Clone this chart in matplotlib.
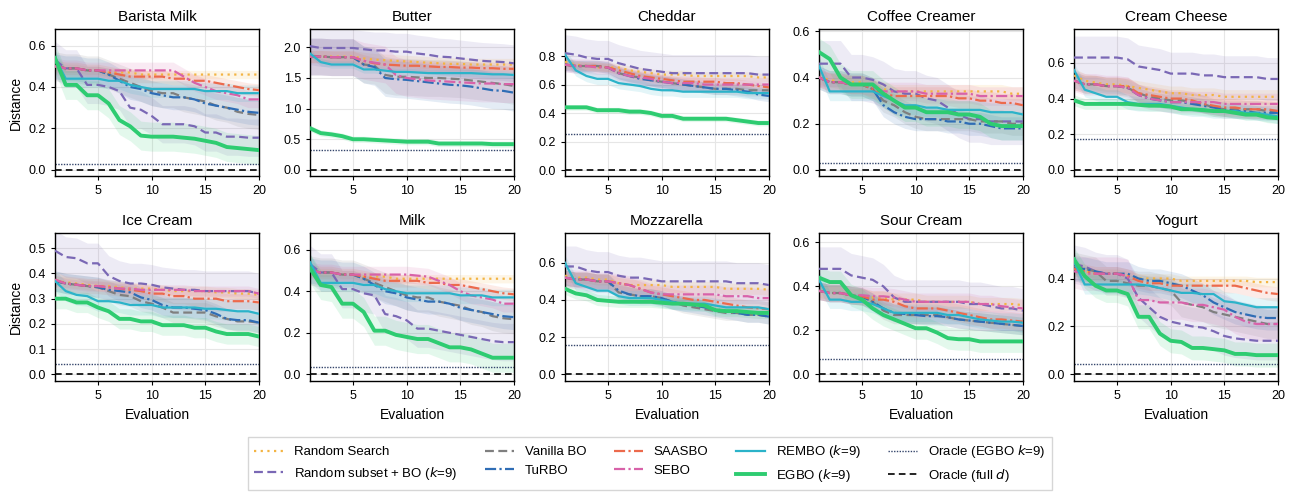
import numpy as np
import matplotlib
matplotlib.use("Agg")
import matplotlib.pyplot as plt
from matplotlib.ticker import MultipleLocator

plt.rcParams['font.family'] = ['Liberation Sans', 'DejaVu Sans']

panels = ["Barista Milk", "Butter", "Cheddar", "Coffee Creamer", "Cream Cheese",
          "Ice Cream", "Milk", "Mozzarella", "Sour Cream", "Yogurt"]
evals = list(range(1, 21))
ylims = [(-0.03, 0.68), (-0.10, 2.30), (-0.042, 0.99), (-0.026, 0.61), (-0.034, 0.79),
         (-0.026, 0.56), (-0.032, 0.68), (-0.036, 0.76), (-0.03, 0.643), (-0.028, 0.59)]
ytick_steps = [0.2, 0.5, 0.2, 0.2, 0.2, 0.1, 0.2, 0.2, 0.2, 0.2]

random_search = [
    [0.50, 0.49, 0.49, 0.48, 0.48, 0.47, 0.47, 0.47, 0.46, 0.46, 0.46, 0.46, 0.46, 0.46, 0.46, 0.46, 0.46, 0.46, 0.46, 0.46],
    [1.85, 1.85, 1.85, 1.85, 1.85, 1.82, 1.80, 1.79, 1.78, 1.77, 1.76, 1.75, 1.74, 1.73, 1.73, 1.72, 1.72, 1.72, 1.72, 1.72],
    [0.76, 0.74, 0.73, 0.72, 0.72, 0.72, 0.70, 0.69, 0.68, 0.67, 0.67, 0.67, 0.66, 0.66, 0.66, 0.66, 0.66, 0.66, 0.65, 0.65],
    [0.40, 0.39, 0.38, 0.38, 0.38, 0.36, 0.35, 0.34, 0.34, 0.34, 0.34, 0.34, 0.34, 0.34, 0.34, 0.34, 0.34, 0.34, 0.33, 0.33],
    [0.53, 0.50, 0.49, 0.48, 0.48, 0.47, 0.46, 0.45, 0.44, 0.43, 0.43, 0.42, 0.42, 0.42, 0.41, 0.41, 0.41, 0.41, 0.41, 0.41],
    [0.37, 0.365, 0.36, 0.355, 0.35, 0.35, 0.345, 0.34, 0.34, 0.34, 0.335, 0.33, 0.33, 0.33, 0.33, 0.325, 0.325, 0.32, 0.32, 0.315],
    [0.50, 0.49, 0.49, 0.48, 0.48, 0.47, 0.47, 0.47, 0.46, 0.46, 0.46, 0.46, 0.46, 0.46, 0.46, 0.46, 0.46, 0.46, 0.46, 0.46],
    [0.53, 0.52, 0.52, 0.51, 0.51, 0.49, 0.48, 0.48, 0.48, 0.48, 0.47, 0.47, 0.47, 0.47, 0.47, 0.46, 0.46, 0.46, 0.46, 0.455],
    [0.38, 0.37, 0.37, 0.36, 0.36, 0.35, 0.35, 0.34, 0.34, 0.34, 0.33, 0.33, 0.33, 0.33, 0.33, 0.32, 0.32, 0.32, 0.32, 0.315],
    [0.44, 0.43, 0.42, 0.42, 0.42, 0.41, 0.40, 0.40, 0.40, 0.40, 0.39, 0.39, 0.39, 0.39, 0.39, 0.39, 0.39, 0.385, 0.385, 0.385],
]
random_subset = [
    [0.53, 0.49, 0.49, 0.41, 0.41, 0.40, 0.38, 0.30, 0.29, 0.26, 0.22, 0.22, 0.22, 0.21, 0.18, 0.18, 0.16, 0.16, 0.155, 0.155],
    [2.02, 1.99, 1.99, 1.99, 1.99, 1.97, 1.95, 1.95, 1.93, 1.93, 1.90, 1.88, 1.85, 1.84, 1.82, 1.80, 1.78, 1.77, 1.76, 1.74],
    [0.82, 0.81, 0.79, 0.78, 0.78, 0.75, 0.73, 0.71, 0.70, 0.69, 0.68, 0.68, 0.68, 0.68, 0.68, 0.68, 0.68, 0.68, 0.67, 0.67],
    [0.46, 0.46, 0.46, 0.40, 0.40, 0.39, 0.37, 0.34, 0.33, 0.33, 0.31, 0.30, 0.27, 0.24, 0.22, 0.22, 0.21, 0.21, 0.21, 0.21],
    [0.63, 0.63, 0.63, 0.63, 0.63, 0.62, 0.58, 0.57, 0.56, 0.54, 0.54, 0.54, 0.53, 0.53, 0.52, 0.52, 0.52, 0.52, 0.51, 0.51],
    [0.49, 0.465, 0.46, 0.44, 0.44, 0.39, 0.37, 0.36, 0.36, 0.355, 0.345, 0.34, 0.335, 0.335, 0.33, 0.33, 0.33, 0.33, 0.33, 0.32],
    [0.53, 0.49, 0.49, 0.41, 0.41, 0.39, 0.38, 0.29, 0.28, 0.26, 0.22, 0.22, 0.21, 0.20, 0.19, 0.18, 0.17, 0.16, 0.155, 0.155],
    [0.58, 0.58, 0.56, 0.55, 0.55, 0.53, 0.52, 0.52, 0.51, 0.50, 0.50, 0.50, 0.50, 0.50, 0.50, 0.50, 0.49, 0.49, 0.49, 0.48],
    [0.48, 0.48, 0.48, 0.45, 0.44, 0.43, 0.40, 0.35, 0.33, 0.33, 0.33, 0.33, 0.33, 0.33, 0.32, 0.32, 0.31, 0.30, 0.30, 0.29],
    [0.46, 0.45, 0.43, 0.42, 0.42, 0.40, 0.32, 0.28, 0.24, 0.22, 0.21, 0.20, 0.195, 0.18, 0.16, 0.15, 0.145, 0.14, 0.14, 0.14],
]
vanilla_bo = [
    [0.50, 0.49, 0.49, 0.48, 0.48, 0.46, 0.44, 0.42, 0.40, 0.38, 0.37, 0.37, 0.35, 0.34, 0.33, 0.31, 0.30, 0.28, 0.27, 0.265],
    [1.85, 1.85, 1.84, 1.84, 1.84, 1.72, 1.70, 1.55, 1.52, 1.52, 1.51, 1.50, 1.50, 1.49, 1.48, 1.46, 1.44, 1.42, 1.40, 1.37],
    [0.74, 0.73, 0.73, 0.73, 0.72, 0.68, 0.66, 0.65, 0.63, 0.62, 0.61, 0.60, 0.59, 0.58, 0.57, 0.57, 0.57, 0.56, 0.56, 0.56],
    [0.40, 0.38, 0.38, 0.37, 0.37, 0.35, 0.30, 0.28, 0.25, 0.23, 0.22, 0.22, 0.22, 0.22, 0.22, 0.21, 0.21, 0.21, 0.20, 0.20],
    [0.50, 0.48, 0.48, 0.47, 0.47, 0.46, 0.43, 0.41, 0.40, 0.39, 0.39, 0.38, 0.37, 0.35, 0.34, 0.34, 0.34, 0.34, 0.33, 0.33],
    [0.37, 0.36, 0.355, 0.35, 0.345, 0.33, 0.315, 0.31, 0.29, 0.28, 0.265, 0.245, 0.245, 0.245, 0.245, 0.23, 0.22, 0.21, 0.21, 0.205],
    [0.50, 0.49, 0.49, 0.48, 0.48, 0.46, 0.44, 0.42, 0.40, 0.38, 0.37, 0.37, 0.35, 0.34, 0.33, 0.31, 0.30, 0.28, 0.27, 0.265],
    [0.52, 0.51, 0.51, 0.50, 0.50, 0.44, 0.43, 0.42, 0.42, 0.41, 0.39, 0.37, 0.36, 0.35, 0.34, 0.33, 0.33, 0.32, 0.32, 0.31],
    [0.38, 0.37, 0.37, 0.36, 0.355, 0.33, 0.29, 0.27, 0.27, 0.27, 0.27, 0.27, 0.26, 0.25, 0.245, 0.24, 0.235, 0.23, 0.225, 0.22],
    [0.45, 0.44, 0.43, 0.39, 0.39, 0.38, 0.37, 0.37, 0.36, 0.35, 0.30, 0.29, 0.28, 0.26, 0.25, 0.24, 0.23, 0.22, 0.21, 0.21],
]
turbo = [
    [0.50, 0.49, 0.49, 0.48, 0.48, 0.46, 0.43, 0.40, 0.39, 0.37, 0.36, 0.35, 0.35, 0.34, 0.32, 0.31, 0.30, 0.29, 0.28, 0.275],
    [1.85, 1.85, 1.84, 1.84, 1.84, 1.72, 1.68, 1.50, 1.48, 1.47, 1.45, 1.43, 1.41, 1.39, 1.38, 1.36, 1.33, 1.30, 1.29, 1.26],
    [0.74, 0.73, 0.73, 0.73, 0.72, 0.68, 0.66, 0.64, 0.63, 0.62, 0.61, 0.60, 0.59, 0.58, 0.57, 0.57, 0.56, 0.55, 0.53, 0.52],
    [0.40, 0.38, 0.38, 0.37, 0.37, 0.35, 0.28, 0.25, 0.23, 0.22, 0.22, 0.22, 0.21, 0.21, 0.20, 0.20, 0.19, 0.18, 0.18, 0.18],
    [0.50, 0.48, 0.48, 0.47, 0.47, 0.46, 0.42, 0.40, 0.39, 0.38, 0.38, 0.37, 0.36, 0.35, 0.34, 0.33, 0.33, 0.32, 0.32, 0.32],
    [0.37, 0.36, 0.355, 0.35, 0.345, 0.335, 0.33, 0.325, 0.305, 0.295, 0.275, 0.265, 0.265, 0.26, 0.255, 0.24, 0.22, 0.215, 0.215, 0.205],
    [0.50, 0.49, 0.49, 0.48, 0.48, 0.46, 0.43, 0.40, 0.39, 0.37, 0.36, 0.35, 0.35, 0.34, 0.32, 0.31, 0.30, 0.29, 0.28, 0.275],
    [0.52, 0.51, 0.51, 0.50, 0.50, 0.45, 0.43, 0.42, 0.42, 0.41, 0.39, 0.38, 0.37, 0.36, 0.35, 0.34, 0.33, 0.32, 0.32, 0.31],
    [0.38, 0.37, 0.37, 0.36, 0.355, 0.33, 0.30, 0.28, 0.275, 0.27, 0.265, 0.265, 0.26, 0.25, 0.245, 0.24, 0.235, 0.23, 0.225, 0.22],
    [0.44, 0.44, 0.43, 0.42, 0.42, 0.42, 0.40, 0.39, 0.39, 0.38, 0.37, 0.35, 0.33, 0.30, 0.28, 0.26, 0.25, 0.24, 0.235, 0.235],
]
saasbo = [
    [0.50, 0.49, 0.49, 0.48, 0.48, 0.47, 0.46, 0.45, 0.45, 0.45, 0.45, 0.44, 0.44, 0.43, 0.43, 0.42, 0.41, 0.40, 0.39, 0.385],
    [1.85, 1.85, 1.84, 1.84, 1.84, 1.78, 1.74, 1.72, 1.71, 1.70, 1.70, 1.69, 1.68, 1.68, 1.67, 1.67, 1.66, 1.66, 1.65, 1.65],
    [0.74, 0.73, 0.73, 0.73, 0.72, 0.70, 0.68, 0.66, 0.65, 0.64, 0.63, 0.62, 0.62, 0.62, 0.62, 0.61, 0.61, 0.60, 0.59, 0.58],
    [0.40, 0.38, 0.38, 0.37, 0.37, 0.35, 0.33, 0.32, 0.32, 0.32, 0.32, 0.32, 0.32, 0.31, 0.31, 0.30, 0.30, 0.29, 0.29, 0.28],
    [0.50, 0.48, 0.48, 0.47, 0.47, 0.47, 0.43, 0.42, 0.41, 0.40, 0.40, 0.39, 0.37, 0.36, 0.35, 0.35, 0.34, 0.34, 0.34, 0.33],
    [0.375, 0.36, 0.355, 0.35, 0.35, 0.345, 0.34, 0.335, 0.33, 0.32, 0.32, 0.31, 0.31, 0.30, 0.30, 0.30, 0.29, 0.29, 0.29, 0.285],
    [0.50, 0.49, 0.49, 0.48, 0.48, 0.47, 0.46, 0.45, 0.45, 0.45, 0.45, 0.44, 0.44, 0.43, 0.43, 0.42, 0.41, 0.40, 0.39, 0.385],
    [0.52, 0.51, 0.51, 0.50, 0.50, 0.49, 0.48, 0.46, 0.44, 0.43, 0.42, 0.41, 0.40, 0.40, 0.39, 0.38, 0.37, 0.36, 0.355, 0.35],
    [0.38, 0.37, 0.37, 0.36, 0.355, 0.34, 0.34, 0.33, 0.31, 0.30, 0.30, 0.30, 0.29, 0.28, 0.27, 0.26, 0.25, 0.25, 0.245, 0.24],
    [0.44, 0.43, 0.42, 0.42, 0.42, 0.41, 0.39, 0.38, 0.38, 0.37, 0.37, 0.37, 0.37, 0.37, 0.37, 0.37, 0.36, 0.35, 0.34, 0.335],
]
sebo = [
    [0.50, 0.49, 0.49, 0.48, 0.48, 0.48, 0.48, 0.48, 0.48, 0.48, 0.48, 0.48, 0.45, 0.42, 0.40, 0.38, 0.37, 0.36, 0.34, 0.34],
    [1.85, 1.85, 1.84, 1.84, 1.84, 1.78, 1.75, 1.72, 1.55, 1.50, 1.48, 1.46, 1.45, 1.44, 1.43, 1.42, 1.41, 1.41, 1.40, 1.40],
    [0.74, 0.73, 0.73, 0.72, 0.72, 0.68, 0.66, 0.65, 0.64, 0.62, 0.61, 0.61, 0.61, 0.60, 0.60, 0.60, 0.60, 0.60, 0.60, 0.60],
    [0.40, 0.38, 0.38, 0.37, 0.37, 0.36, 0.34, 0.34, 0.34, 0.34, 0.33, 0.33, 0.33, 0.33, 0.33, 0.32, 0.32, 0.32, 0.32, 0.32],
    [0.50, 0.48, 0.48, 0.47, 0.47, 0.46, 0.42, 0.40, 0.39, 0.38, 0.38, 0.38, 0.38, 0.38, 0.37, 0.37, 0.37, 0.37, 0.37, 0.37],
    [0.375, 0.36, 0.355, 0.35, 0.35, 0.345, 0.34, 0.34, 0.335, 0.335, 0.335, 0.335, 0.335, 0.33, 0.33, 0.33, 0.33, 0.33, 0.33, 0.32],
    [0.50, 0.49, 0.49, 0.48, 0.48, 0.48, 0.48, 0.48, 0.48, 0.48, 0.475, 0.47, 0.45, 0.43, 0.40, 0.38, 0.37, 0.36, 0.34, 0.34],
    [0.52, 0.51, 0.51, 0.50, 0.50, 0.49, 0.48, 0.46, 0.44, 0.43, 0.43, 0.43, 0.43, 0.43, 0.43, 0.42, 0.42, 0.42, 0.41, 0.41],
    [0.38, 0.37, 0.37, 0.36, 0.36, 0.355, 0.355, 0.35, 0.34, 0.33, 0.33, 0.33, 0.33, 0.33, 0.33, 0.32, 0.32, 0.31, 0.305, 0.30],
    [0.43, 0.42, 0.42, 0.42, 0.42, 0.41, 0.31, 0.31, 0.30, 0.30, 0.30, 0.29, 0.29, 0.28, 0.27, 0.24, 0.22, 0.21, 0.21, 0.21],
]
rembo = [
    [0.54, 0.44, 0.44, 0.44, 0.44, 0.43, 0.43, 0.41, 0.40, 0.39, 0.39, 0.39, 0.39, 0.39, 0.38, 0.38, 0.38, 0.37, 0.37, 0.37],
    [1.90, 1.76, 1.72, 1.72, 1.72, 1.64, 1.64, 1.62, 1.60, 1.60, 1.59, 1.58, 1.58, 1.58, 1.58, 1.58, 1.57, 1.56, 1.56, 1.55],
    [0.81, 0.70, 0.66, 0.64, 0.64, 0.61, 0.60, 0.59, 0.57, 0.56, 0.56, 0.55, 0.55, 0.55, 0.55, 0.55, 0.55, 0.54, 0.54, 0.54],
    [0.45, 0.34, 0.34, 0.34, 0.34, 0.34, 0.32, 0.30, 0.28, 0.28, 0.27, 0.27, 0.26, 0.26, 0.26, 0.26, 0.25, 0.25, 0.25, 0.24],
    [0.56, 0.45, 0.43, 0.41, 0.41, 0.38, 0.37, 0.37, 0.37, 0.36, 0.35, 0.34, 0.34, 0.33, 0.33, 0.33, 0.32, 0.32, 0.31, 0.30],
    [0.37, 0.33, 0.315, 0.31, 0.29, 0.29, 0.285, 0.275, 0.275, 0.275, 0.265, 0.265, 0.265, 0.265, 0.26, 0.26, 0.255, 0.25, 0.25, 0.24],
    [0.54, 0.44, 0.44, 0.44, 0.44, 0.43, 0.43, 0.41, 0.40, 0.39, 0.39, 0.39, 0.39, 0.39, 0.38, 0.38, 0.38, 0.37, 0.37, 0.37],
    [0.60, 0.49, 0.47, 0.45, 0.45, 0.42, 0.41, 0.41, 0.41, 0.40, 0.39, 0.38, 0.38, 0.38, 0.37, 0.36, 0.36, 0.36, 0.36, 0.35],
    [0.43, 0.34, 0.34, 0.33, 0.33, 0.32, 0.30, 0.28, 0.28, 0.28, 0.28, 0.28, 0.27, 0.27, 0.26, 0.25, 0.245, 0.24, 0.24, 0.235],
    [0.47, 0.375, 0.375, 0.375, 0.375, 0.375, 0.375, 0.37, 0.36, 0.35, 0.34, 0.34, 0.335, 0.335, 0.305, 0.30, 0.29, 0.28, 0.28, 0.28],
]
egbo = [
    [0.54, 0.41, 0.41, 0.36, 0.36, 0.32, 0.24, 0.21, 0.165, 0.16, 0.16, 0.16, 0.155, 0.15, 0.14, 0.13, 0.11, 0.105, 0.10, 0.095],
    [0.68, 0.60, 0.58, 0.55, 0.50, 0.50, 0.49, 0.48, 0.47, 0.46, 0.46, 0.46, 0.43, 0.43, 0.43, 0.43, 0.43, 0.42, 0.42, 0.42],
    [0.44, 0.44, 0.44, 0.42, 0.42, 0.42, 0.41, 0.41, 0.40, 0.38, 0.38, 0.36, 0.36, 0.36, 0.36, 0.36, 0.35, 0.34, 0.33, 0.33],
    [0.51, 0.48, 0.40, 0.37, 0.37, 0.37, 0.33, 0.30, 0.27, 0.27, 0.25, 0.25, 0.25, 0.24, 0.24, 0.23, 0.20, 0.19, 0.19, 0.19],
    [0.39, 0.37, 0.37, 0.37, 0.37, 0.37, 0.365, 0.36, 0.36, 0.355, 0.34, 0.34, 0.335, 0.33, 0.33, 0.32, 0.31, 0.31, 0.295, 0.29],
    [0.30, 0.30, 0.285, 0.285, 0.265, 0.25, 0.22, 0.22, 0.21, 0.21, 0.195, 0.195, 0.195, 0.185, 0.185, 0.17, 0.16, 0.16, 0.16, 0.15],
    [0.51, 0.43, 0.42, 0.34, 0.34, 0.30, 0.21, 0.21, 0.19, 0.18, 0.17, 0.17, 0.15, 0.13, 0.13, 0.12, 0.10, 0.08, 0.08, 0.08],
    [0.46, 0.435, 0.425, 0.40, 0.395, 0.39, 0.39, 0.39, 0.39, 0.385, 0.38, 0.38, 0.375, 0.37, 0.345, 0.34, 0.34, 0.335, 0.33, 0.33],
    [0.44, 0.42, 0.42, 0.36, 0.34, 0.30, 0.27, 0.25, 0.23, 0.21, 0.21, 0.19, 0.165, 0.16, 0.16, 0.15, 0.15, 0.15, 0.15, 0.15],
    [0.48, 0.41, 0.37, 0.35, 0.35, 0.335, 0.24, 0.24, 0.17, 0.14, 0.135, 0.11, 0.11, 0.105, 0.10, 0.085, 0.085, 0.08, 0.08, 0.08],
]
oracle_egbo = [0.03, 0.32, 0.25, 0.03, 0.175, 0.043, 0.033, 0.155, 0.07, 0.045]
oracle_full = [0.0] * 10

# per-panel band half-widths (std) for each method
std_random_search = [0.02, 0.10, 0.03, 0.03, 0.04, 0.02, 0.02, 0.03, 0.03, 0.02]
std_random_subset = [0.09, 0.30, 0.13, 0.10, 0.12, 0.08, 0.09, 0.11, 0.10, 0.08]
std_vanilla_bo = [0.07, 0.30, 0.04, 0.05, 0.05, 0.04, 0.07, 0.04, 0.04, 0.06]
std_turbo = [0.06, 0.30, 0.04, 0.05, 0.04, 0.04, 0.06, 0.04, 0.04, 0.05]
std_saasbo = [0.03, 0.10, 0.03, 0.04, 0.05, 0.03, 0.03, 0.04, 0.04, 0.03]
std_sebo = [0.04, 0.30, 0.05, 0.04, 0.06, 0.02, 0.04, 0.05, 0.04, 0.07]
std_rembo = [0.04, 0.06, 0.04, 0.04, 0.04, 0.04, 0.04, 0.04, 0.04, 0.04]
std_egbo = [0.07, 0.05, 0.02, 0.06, 0.03, 0.04, 0.07, 0.03, 0.05, 0.05]

methods = [
    ("Random Search", random_search, std_random_search, "#f3b443", (0, (1, 2)), 1.6),
    ("Random subset + BO ($k$=9)", random_subset, std_random_subset, "#7a68b5", (0, (4, 2)), 1.6),
    ("Vanilla BO", vanilla_bo, std_vanilla_bo, "#7f7f7f", (0, (4, 2)), 1.6),
    ("TuRBO", turbo, std_turbo, "#2f6db5", (0, (5, 1.5, 1, 1.5)), 1.6),
    ("SAASBO", saasbo, std_saasbo, "#ec6a4c", (0, (5, 1.5, 1, 1.5)), 1.6),
    ("SEBO", sebo, std_sebo, "#d862a9", (0, (5, 1.5, 1, 1.5)), 1.6),
    ("REMBO ($k$=9)", rembo, std_rembo, "#2bb3c9", "-", 1.6),
    ("EGBO ($k$=9)", egbo, std_egbo, "#2ecc71", "-", 2.8),
]

W, H = 1292, 497
fig = plt.figure(figsize=(W / 100, H / 100), dpi=100)
lefts = [55, 310, 565, 819, 1074]
aw = 204
rows = [(29, 176), (233, 381)]

x = np.array(evals)
for i, name in enumerate(panels):
    r, c = divmod(i, 5)
    top, bot = rows[r]
    ax = fig.add_axes([lefts[c] / W, 1 - bot / H, aw / W, (bot - top) / H])
    for label, data, sd, col, ls, lw in methods:
        m = np.array(data[i])
        ax.fill_between(x, m - sd[i], m + sd[i], color=col, alpha=0.13, linewidth=0)
    for label, data, sd, col, ls, lw in methods:
        ax.plot(x, data[i], color=col, linestyle=ls, linewidth=lw, label=label,
                zorder=4 if label.startswith("EGBO") else 3)
    ax.axhline(oracle_egbo[i], color="#34456b", linestyle=(0, (1, 1)), linewidth=1.0,
               label="Oracle (EGBO $k$=9)")
    ax.axhline(oracle_full[i], color="black", linestyle=(0, (4, 2.5)), linewidth=1.2,
               label="Oracle (full $d$)")
    ax.set_xlim(1, 20)
    ax.set_ylim(*ylims[i])
    ax.set_xticks([5, 10, 15, 20])
    ax.yaxis.set_major_locator(MultipleLocator(ytick_steps[i]))
    ax.yaxis.set_major_formatter(matplotlib.ticker.FormatStrFormatter('%.1f'))
    ax.grid(True, color="#e6e6e6", linewidth=0.8)
    ax.set_axisbelow(True)
    ax.tick_params(labelsize=9, length=3, width=0.8)
    for s in ax.spines.values():
        s.set_linewidth(1.0)
    ax.set_title(name, fontsize=11, pad=6)
    if c == 0:
        ax.set_ylabel("Distance", fontsize=10)
    if r == 1:
        ax.set_xlabel("Evaluation", fontsize=10)
    if i == 0:
        handles, labels = ax.get_legend_handles_labels()

fig.legend(handles, labels, loc="lower center", bbox_to_anchor=(0.503, 0.0), ncol=5,
           fontsize=9.5, frameon=True, handlelength=2.2, columnspacing=2.1,
           borderpad=0.5, labelspacing=0.5, fancybox=False, edgecolor="#cccccc")

fig.savefig("out.png", dpi=100)
